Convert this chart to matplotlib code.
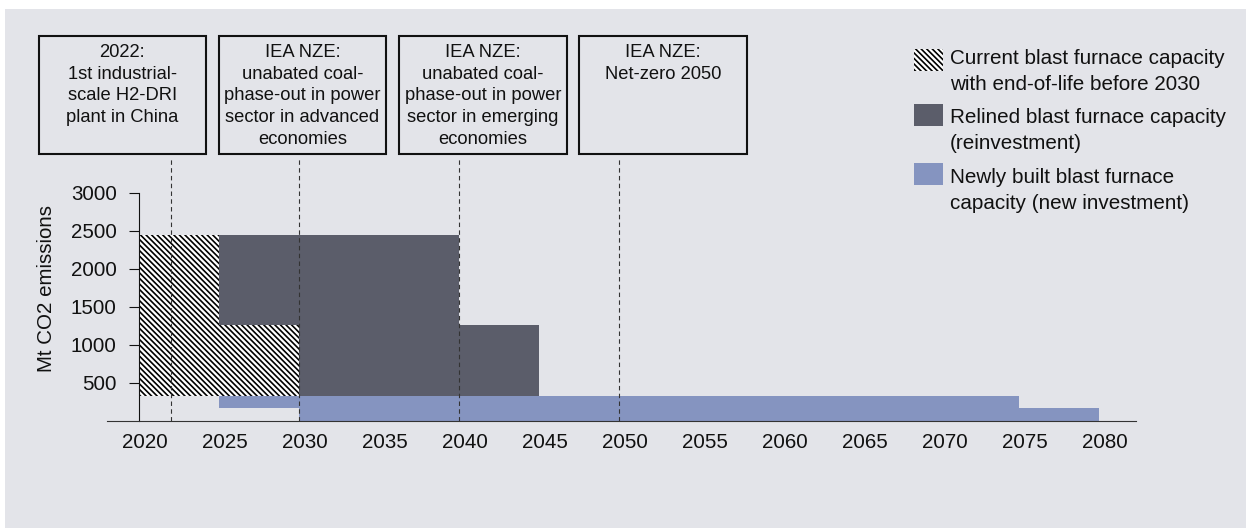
import matplotlib.pyplot as plt
import matplotlib.transforms as mtransforms
from matplotlib.patches import Rectangle

plt.rcParams['font.family'] = ['Liberation Sans', 'DejaVu Sans']
plt.rcParams['hatch.linewidth'] = 1.2

# data (Mt CO2 per period)
cur_start = [2020, 2025]
cur_width = [5, 5]
cur_bottom = [330, 330]
cur_top = [2450, 1260]

rel_start = [2025, 2030, 2040]
rel_width = [5, 10, 5]
rel_bottom = [1260, 330, 330]
rel_top = [2450, 2450, 1260]

new_start = [2025, 2030, 2075]
new_width = [5, 45, 5]
new_bottom = [165, 0, 0]
new_top = [330, 330, 165]

milestone_years = [2022, 2030, 2040, 2050]
milestone_texts = [
    "2022:\n1st industrial-\nscale H2-DRI\nplant in China",
    "IEA NZE:\nunabated coal-\nphase-out in power\nsector in advanced\neconomies",
    "IEA NZE:\nunabated coal-\nphase-out in power\nsector in emerging\neconomies",
    "IEA NZE:\nNet-zero 2050",
]

legend_labels = [
    "Current blast furnace capacity\nwith end-of-life before 2030",
    "Relined blast furnace capacity\n(reinvestment)",
    "Newly built blast furnace\ncapacity (new investment)",
]

x_ticks = list(range(2020, 2081, 5))
y_ticks = [500, 1000, 1500, 2000, 2500, 3000]

bg = '#e3e4e9'
dark = '#5b5d6a'
blue = '#8594c0'
hatch = '\\' * 6

W, H = 1246, 528
fig = plt.figure(figsize=(W / 100, H / 100), dpi=100, facecolor='white')
fig.patches.append(Rectangle((5 / W, 0), 1, 1 - 9 / H, transform=fig.transFigure,
                             facecolor=bg, edgecolor='none', zorder=-10))

ax = fig.add_axes([107 / W, (H - 421) / H, (1136 - 107) / W, (421 - 193) / H])
ax.set_facecolor('none')

h = [t - b for t, b in zip(cur_top, cur_bottom)]
ax.bar(cur_start, h, width=cur_width, bottom=cur_bottom, align='edge',
       color='white', edgecolor='black', hatch=hatch, linewidth=0, zorder=2)
h = [t - b for t, b in zip(rel_top, rel_bottom)]
ax.bar(rel_start, h, width=rel_width, bottom=rel_bottom, align='edge',
       color=dark, linewidth=0, zorder=2)
h = [t - b for t, b in zip(new_top, new_bottom)]
ax.bar(new_start, h, width=new_width, bottom=new_bottom, align='edge',
       color=blue, linewidth=0, zorder=2)

for yr in milestone_years:
    ax.axvline(yr, ymin=0, ymax=(421 - 157) / (421 - 193), color='#333333',
               lw=0.8, dashes=(4, 3), clip_on=False, zorder=3)

ax.set_xlim(2018, 2082.3)
ax.set_ylim(0, 3000)
ax.set_xticks(x_ticks)
ax.set_yticks(y_ticks)
ax.tick_params(axis='x', length=0, pad=9, labelsize=14.8, colors='#111111')
ax.tick_params(axis='y', length=7, pad=9, labelsize=14.8, colors='#111111', direction='out')
shift = mtransforms.ScaledTranslation(5.5 / 100, 0, fig.dpi_scale_trans)
for lab in ax.get_xticklabels():
    lab.set_transform(lab.get_transform() + shift)
for s in ['top', 'right']:
    ax.spines[s].set_visible(False)
ax.spines['left'].set_position(('data', 2020))
ax.spines['left'].set_bounds(0, 3000)
ax.spines['left'].set_color('#111111')
ax.spines['bottom'].set_color('#333333')
ax.set_ylabel('Mt CO2 emissions', fontsize=14.8, color='#111111')
ax.yaxis.set_label_coords((56 - 107) / (1136 - 107), (421 - 288) / (421 - 193))

# milestone boxes
for i, txt in enumerate(milestone_texts):
    x0 = 38.5 + i * 180.3
    fig.patches.append(Rectangle((x0 / W, 1 - 154 / H), 167.5 / W, (154 - 36) / H,
                                 transform=fig.transFigure, facecolor='none',
                                 edgecolor='#111111', lw=1.5, zorder=3))
    fig.text((x0 + 83.75) / W, 1 - 44 / H, txt, ha='center', va='top',
             fontsize=13.2, linespacing=1.36, color='#111111')

# legend drawn by hand so the patch lines up with the first text line
styles = [dict(facecolor='white', edgecolor='black', hatch=hatch, lw=0),
          dict(facecolor=dark, edgecolor='none'),
          dict(facecolor=blue, edgecolor='none')]
patch_tops = [49, 104, 163]
text_tops = [49, 108, 168]
for ptop, ttop, st, lab in zip(patch_tops, text_tops, styles, legend_labels):
    fig.patches.append(Rectangle((914 / W, 1 - (ptop + 22) / H), 29 / W, 22 / H,
                                 transform=fig.transFigure, zorder=3, **st))
    fig.text(950 / W, 1 - ttop / H, lab, ha='left', va='top',
             fontsize=14.9, linespacing=1.47, color='#111111')

fig.savefig('out.png', dpi=100, facecolor=fig.get_facecolor())
